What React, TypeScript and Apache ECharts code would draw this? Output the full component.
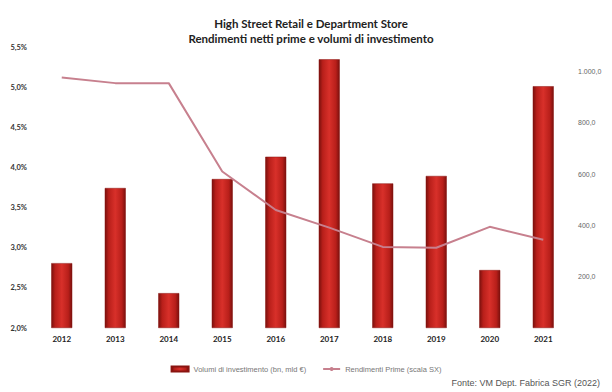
import React, { useEffect, useRef } from "react";
import * as echarts from "echarts";

const years = ["2012", "2013", "2014", "2015", "2016", "2017", "2018", "2019", "2020", "2021"];
const volumes = [253, 546, 136, 581, 668, 1048, 564, 593, 226, 943];
const yields = [5.12, 5.05, 5.05, 3.95, 3.47, 3.25, 3.01, 3.0, 3.26, 3.1];
const leftTicks = { min: 2, max: 5.5, interval: 0.5 };
const rightTicks = { min: 0, max: 1096, interval: 200 };

const fmtRight = (v: number) => {
  if (v <= 0 || v > 1000 || v % 200 !== 0) return "";
  const s = v >= 1000 ? "1.000" : String(v);
  return s + ",0";
};

export default function App() {
  const ref = useRef<HTMLDivElement>(null);
  useEffect(() => {
    document.body.style.margin = "0";
    const chart = echarts.init(ref.current!, null, { renderer: "svg" });
    const barColor = new echarts.graphic.LinearGradient(0, 0, 1, 0, [
      { offset: 0, color: "#7a100d" },
      { offset: 0.18, color: "#b81f1a" },
      { offset: 0.5, color: "#d8302a" },
      { offset: 0.82, color: "#b81f1a" },
      { offset: 1, color: "#7a100d" },
    ]);
    chart.setOption({
      animation: false,
      backgroundColor: "#ffffff",
      title: {
        text: "High Street Retail e Department Store\nRendimenti netti prime e volumi di investimento",
        left: 306,
        textAlign: "center",
        top: 11,
        textStyle: { fontFamily: "Lato", fontWeight: "bold", fontSize: 11.5, lineHeight: 15, color: "#222" },
      },
      grid: { left: 35, right: 42, top: 47, bottom: 64 },
      legend: {
        left: "center",
        top: 360,
        itemGap: 16,
        itemWidth: 17,
        itemHeight: 5,
        textStyle: { fontFamily: "Liberation Sans", fontSize: 7.5, color: "#777" },
        data: [
          { name: "Volumi di investimento (bn, mld €)", icon: "rect" },
          { name: "Rendimenti Prime (scala SX)" },
        ],
      },
      xAxis: {
        type: "category",
        data: years,
        axisLine: { show: false },
        axisTick: { show: false },
        axisLabel: { fontFamily: "Lato", fontWeight: "bold", fontSize: 8, color: "#222", margin: 7 },
      },
      yAxis: [
        {
          type: "value",
          min: leftTicks.min,
          max: leftTicks.max,
          interval: leftTicks.interval,
          splitLine: { show: false },
          axisLine: { show: false },
          axisTick: { show: false },
          axisLabel: {
            fontFamily: "Lato",
            fontWeight: "bold",
            fontSize: 7.5,
            color: "#333",
            margin: 8,
            formatter: (v: number) => v.toFixed(1).replace(".", ",") + "%",
          },
        },
        {
          type: "value",
          min: rightTicks.min,
          max: rightTicks.max,
          interval: rightTicks.interval,
          splitLine: { show: false },
          axisLine: { show: false },
          axisTick: { show: false },
          axisLabel: {
            fontFamily: "Liberation Sans",
            fontSize: 7,
            color: "#666",
            margin: 8,
            formatter: fmtRight,
          },
        },
      ],
      series: [
        {
          name: "Volumi di investimento (bn, mld €)",
          type: "bar",
          yAxisIndex: 1,
          data: volumes,
          barWidth: 21,
          itemStyle: { color: barColor, borderColor: "#8a1410", borderWidth: 0.5 },
        },
        {
          name: "Rendimenti Prime (scala SX)",
          type: "line",
          yAxisIndex: 0,
          data: yields,
          symbol: "none",
          lineStyle: { color: "#c7808e", width: 2 },
          itemStyle: { color: "#c7808e" },
          z: 5,
        },
      ],
      graphic: [
        {
          type: "text",
          right: 12,
          top: 378,
          style: { text: "Fonte: VM Dept. Fabrica SGR (2022)", fontFamily: "Liberation Sans", fontSize: 9, fill: "#555" },
        },
      ],
    });
    return () => chart.dispose();
  }, []);
  return <div ref={ref} style={{ width: 612, height: 392 }} />;
}
